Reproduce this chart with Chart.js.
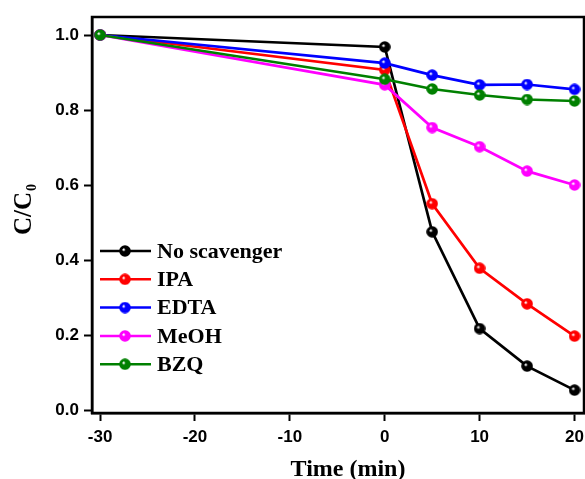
<!DOCTYPE html>
<html>
<head>
<meta charset="utf-8">
<script src="https://cdn.jsdelivr.net/npm/chart.js@4.4.0/dist/chart.umd.min.js"></script>
<style>
  html, body { margin: 0; padding: 0; background: #fff; overflow: hidden; }
  canvas { display: block; }
</style>
</head>
<body>
<canvas id="chart" width="585" height="479"></canvas>
<script>
// time points (min)
const times = [-30, 0, 5, 10, 15, 20];

const seriesNames = ['No scavenger', 'IPA', 'EDTA', 'MeOH', 'BZQ'];
const noScavenger = [1.0, 0.968, 0.475, 0.217, 0.117, 0.053];
const ipa = [1.0, 0.907, 0.55, 0.378, 0.283, 0.197];
const edta = [1.0, 0.925, 0.893, 0.867, 0.868, 0.855];
const meoh = [1.0, 0.867, 0.753, 0.702, 0.637, 0.6];
const bzq = [1.0, 0.882, 0.856, 0.84, 0.828, 0.824];

const xTicks = [-30, -20, -10, 0, 10, 20];
const yTicks = [0, 0.2, 0.4, 0.6, 0.8, 1.0];

const colors = ['#000000', '#ff0000', '#0000ff', '#ff00ff', '#008000'];
const allValues = [noScavenger, ipa, edta, meoh, bzq];

// glossy ball markers
function ball(color) {
    const c = document.createElement('canvas');
    c.width = 12; c.height = 12;
    const g = c.getContext('2d');
    const grad = g.createRadialGradient(4.5, 4.5, 0.5, 6, 6, 6);
    grad.addColorStop(0, '#ffffff');
    grad.addColorStop(0.25, color);
    grad.addColorStop(1, color);
    g.fillStyle = grad;
    g.beginPath();
    g.arc(6, 6, 5.8, 0, Math.PI * 2);
    g.fill();
    return c;
}

const datasets = seriesNames.map((name, i) => ({
    label: name,
    data: times.map((t, j) => ({ x: t, y: allValues[i][j] })),
    borderColor: colors[i],
    backgroundColor: colors[i],
    borderWidth: 2.7,
    pointStyle: ball(colors[i]),
    pointRadius: 6,
    tension: 0,
    clip: false,
    order: seriesNames.length - i
}));

const serif = '"Liberation Serif", "Times New Roman", serif';

const frame = {
    id: 'frame',
    afterDraw(chart) {
        const ctx = chart.ctx;
        const a = chart.chartArea;
        ctx.save();
        ctx.strokeStyle = '#000';
        ctx.lineWidth = 2.5;
        ctx.strokeRect(a.left, a.top, a.right - a.left, a.bottom - a.top);

        // legend inside plot
        ctx.font = 'bold 22px ' + serif;
        ctx.textBaseline = 'middle';
        ctx.textAlign = 'left';
        seriesNames.forEach((name, i) => {
            const y = 251 + i * 28.3;
            ctx.strokeStyle = colors[i];
            ctx.lineWidth = 2.5;
            ctx.beginPath();
            ctx.moveTo(100, y);
            ctx.lineTo(151, y);
            ctx.stroke();
            ctx.drawImage(datasets[i].pointStyle, 119, y - 6);
            ctx.fillStyle = '#000';
            ctx.fillText(name, 157, y + 1);
        });

        // y title with subscript
        ctx.save();
        ctx.translate(31, 210);
        ctx.rotate(-Math.PI / 2);
        ctx.textBaseline = 'alphabetic';
        ctx.font = 'bold 25px ' + serif;
        const w1 = ctx.measureText('C/C').width;
        ctx.font = 'bold 14px ' + serif;
        const w2 = ctx.measureText('0').width;
        const start = -(w1 + w2) / 2;
        ctx.textAlign = 'left';
        ctx.font = 'bold 25px ' + serif;
        ctx.fillText('C/C', start, 0);
        ctx.font = 'bold 14px ' + serif;
        ctx.fillText('0', start + w1 + 1, 5);
        ctx.restore();

        // x title
        ctx.font = 'bold 24px ' + serif;
        ctx.textAlign = 'center';
        ctx.textBaseline = 'alphabetic';
        ctx.fillText('Time (min)', 348, 476);
        ctx.restore();
    }
};

const tickFont = { family: '"Liberation Sans", Arial, sans-serif', size: 17, weight: 'bold' };

new Chart(document.getElementById('chart'), {
    type: 'line',
    data: { datasets: datasets },
    options: {
        responsive: false,
        animation: false,
        layout: { autoPadding: false, padding: { top: 17, right: 1, left: 0, bottom: 0 } },
        plugins: {
            legend: { display: false },
            tooltip: { enabled: false }
        },
        scales: {
            x: {
                type: 'linear',
                min: -30.85,
                max: 21,
                afterBuildTicks: s => { s.ticks = xTicks.map(v => ({ value: v })); },
                afterFit: s => { s.height = 66; s.paddingLeft = 0; s.paddingRight = 0; },
                border: { display: true, color: '#000', width: 2.5 },
                grid: { drawOnChartArea: false, color: '#000', tickLength: 8, tickWidth: 2 },
                ticks: { color: '#000', font: tickFont, padding: 6, maxRotation: 0 }
            },
            y: {
                min: -0.008,
                max: 1.048,
                afterBuildTicks: s => { s.ticks = yTicks.map(v => ({ value: v })); },
                afterFit: s => { s.width = 92; s.paddingTop = 0; s.paddingBottom = 0; },
                border: { display: true, color: '#000', width: 2.5 },
                grid: { drawOnChartArea: false, color: '#000', tickLength: 8, tickWidth: 2 },
                ticks: { color: '#000', font: tickFont, padding: 5, callback: v => v.toFixed(1) }
            }
        }
    },
    plugins: [frame]
});
</script>
</body>
</html>
